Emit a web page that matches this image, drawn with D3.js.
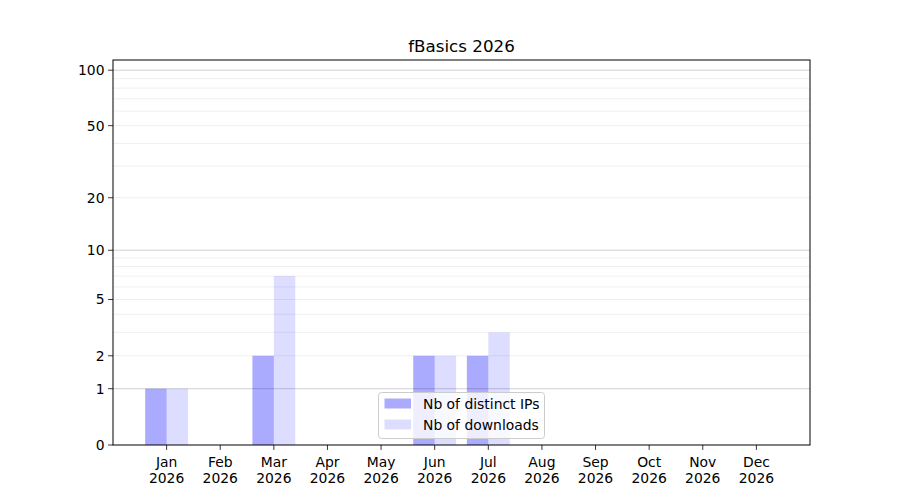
<!DOCTYPE html>
<html><head><meta charset="utf-8">
<script src="https://cdn.jsdelivr.net/npm/d3@7"></script>
<style>body{margin:0;background:#fff}svg{display:block}text{font-family:"DejaVu Sans",sans-serif}</style>
</head><body>
<svg id="c" width="900" height="500"></svg>
<script>
const title = "fBasics 2026";
const months = ["Jan","Feb","Mar","Apr","May","Jun","Jul","Aug","Sep","Oct","Nov","Dec"];
const yearLabel = "2026";
const distinctIPs = [1,0,2,0,0,2,2,0,0,0,0,0];
const downloads = [1,0,7,0,0,2,3,0,0,0,0,0];
const yTicks = [0,1,2,5,10,20,50,100];
const majorGrid = [1,10,100];
const minorGrid = [2,3,4,5,6,7,8,9,20,30,40,50,60,70,80,90];
const seriesNames = ["Nb of distinct IPs","Nb of downloads"];
const yMax = 113.5;

const svg = d3.select("#c");
const L=113, R=810, T=60, B=445;
const FS = "13.9px";
const x = d3.scaleLinear().domain([-1, months.length]).range([L, R]);
const ylog = d3.scaleLog().domain([1, yMax+1]).range([B, T]);
const y = v => ylog(v+1);
const step = x(1)-x(0);
const bw = step*0.4;

// grid
svg.append("g").selectAll("line").data(minorGrid).join("line")
  .attr("x1",L).attr("x2",R).attr("y1",d=>y(d)).attr("y2",d=>y(d))
  .attr("stroke","#ebebeb").attr("stroke-width",0.8);
svg.append("g").selectAll("line").data(majorGrid).join("line")
  .attr("x1",L).attr("x2",R).attr("y1",d=>y(d)).attr("y2",d=>y(d))
  .attr("stroke","#cccccc").attr("stroke-width",0.9);

// bars
const colors = ["rgba(0,0,255,0.333)","rgba(0,0,255,0.133)"];
svg.append("g").selectAll("rect").data(distinctIPs).join("rect")
  .attr("x",(d,i)=>x(i)-bw).attr("width",bw)
  .attr("y",d=>y(d)).attr("height",d=>B-y(d))
  .attr("fill",colors[0]);
svg.append("g").selectAll("rect").data(downloads).join("rect")
  .attr("x",(d,i)=>x(i)).attr("width",bw)
  .attr("y",d=>y(d)).attr("height",d=>B-y(d))
  .attr("fill",colors[1]);

// axes
const gy = svg.append("g");
gy.selectAll("line").data(yTicks).join("line")
  .attr("x1",L-4.9).attr("x2",L).attr("y1",d=>y(d)).attr("y2",d=>y(d))
  .attr("stroke","#000").attr("stroke-width",0.8);
gy.selectAll("text").data(yTicks).join("text")
  .attr("x",L-8.5).attr("y",d=>y(d)).attr("dy","0.36em")
  .attr("text-anchor","end").attr("font-size",FS).text(d=>d);

const gx = svg.append("g");
gx.selectAll("line").data(months).join("line")
  .attr("x1",(d,i)=>x(i)).attr("x2",(d,i)=>x(i)).attr("y1",B).attr("y2",B+4.9)
  .attr("stroke","#000").attr("stroke-width",0.8);
const xt = gx.selectAll("text").data(months).join("text")
  .attr("text-anchor","middle").attr("font-size",FS);
xt.append("tspan").attr("x",(d,i)=>x(i)).attr("y",B+21.5).text(d=>d);
xt.append("tspan").attr("x",(d,i)=>x(i)).attr("y",B+37.5).text(yearLabel);

svg.append("rect").attr("x",L).attr("y",T).attr("width",R-L).attr("height",B-T)
  .attr("fill","none").attr("stroke","#000").attr("stroke-width",1);

// title
svg.append("text").attr("x",(L+R)/2).attr("y",T-8).attr("text-anchor","middle")
  .attr("font-size","16.7px").text(title);

// legend
const lg = svg.append("g");
lg.append("rect").attr("x",378.5).attr("y",392.5).attr("width",166).attr("height",46)
  .attr("rx",3).attr("fill","rgba(255,255,255,0.8)").attr("stroke","#cccccc").attr("stroke-width",1);
seriesNames.forEach((n,i)=>{
  lg.append("rect").attr("x",384.5).attr("y",398.5+i*21).attr("width",26.5).attr("height",10)
    .attr("fill",colors[i]);
  lg.append("text").attr("x",423).attr("y",409+i*21).attr("font-size",FS).text(n);
});
</script>
</body></html>
